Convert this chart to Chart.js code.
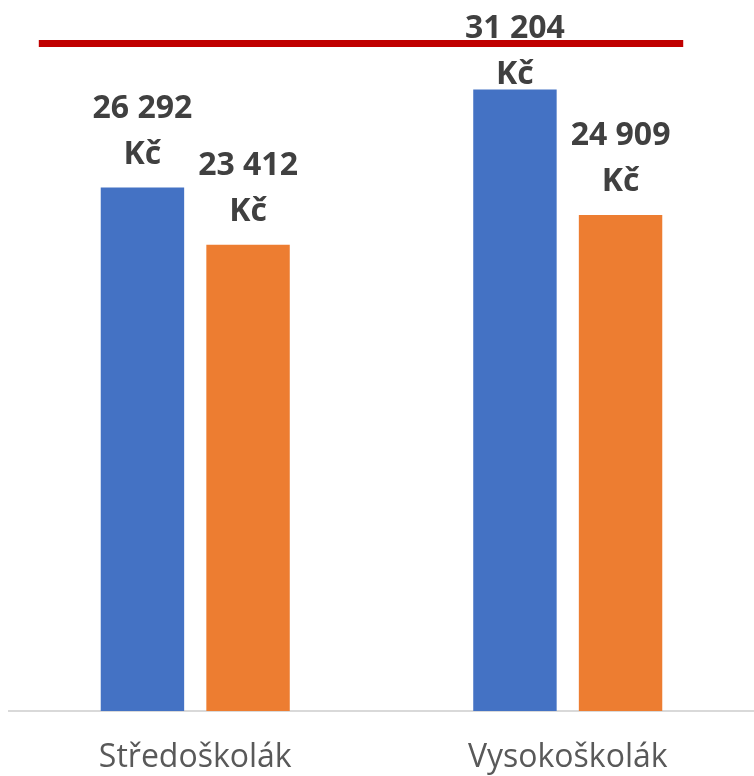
<!DOCTYPE html>
<html>
<head>
<meta charset="utf-8">
<script src="https://cdn.jsdelivr.net/npm/chart.js@4"></script>
<style>
  html, body { margin: 0; padding: 0; background: #fff; }
  #wrap { width: 754px; height: 776px; }
</style>
</head>
<body>
<div id="wrap"><canvas id="wageChart"></canvas></div>
<script>
// Chart data
const categories = ['Středoškolák', 'Vysokoškolák'];
const seriesBlue = [26292, 31204];
const seriesOrange = [23412, 24909];
// red reference line: value and its span in category units
const refValue = 33520;
const refSpan = [-0.42, 1.31];

// Red horizontal reference line, placed through the chart's scales
const refLine = {
    id: 'refLine',
    afterDatasetsDraw(chart) {
        const { ctx, scales } = chart;
        const y = scales.y.getPixelForValue(refValue);
        const x0 = scales.x.getPixelForValue(refSpan[0]);
        const x1 = scales.x.getPixelForValue(refSpan[1]);
        ctx.save();
        ctx.strokeStyle = '#C00000';
        ctx.lineWidth = 7;
        ctx.beginPath();
        ctx.moveTo(x0, y);
        ctx.lineTo(x1, y);
        ctx.stroke();
        ctx.restore();
    }
};

// Draws "26 292" / "Kč" above each bar
const valueLabels = {
    id: 'valueLabels',
    afterDatasetsDraw(chart) {
        const ctx = chart.ctx;
        ctx.save();
        ctx.font = 'bold 32px "Open Sans"';
        ctx.fillStyle = '#404040';
        ctx.textAlign = 'center';
        ctx.textBaseline = 'middle';
        chart.data.datasets.forEach((ds, i) => {
            chart.getDatasetMeta(i).data.forEach((bar, j) => {
                const text = String(ds.data[j]).replace(/\B(?=(\d{3})+(?!\d))/g, ' ');
                let numY = bar.y - 79;
                numY = Math.max(numY, chart.chartArea.top + 15); // keep inside chart
                ctx.fillText(text, bar.x, numY);
                ctx.fillText('Kč', bar.x, numY + 46);
            });
        });
        ctx.restore();
    }
};

const ctx = document.getElementById('wageChart').getContext('2d');
new Chart(ctx, {
    type: 'bar',
    data: {
        labels: categories,
        datasets: [
            {
                label: 'Řada 1',
                data: seriesBlue,
                backgroundColor: '#4472C4',
            },
            {
                label: 'Řada 2',
                data: seriesOrange,
                backgroundColor: '#ED7D31',
            },
        ],
    },
    options: {
        responsive: true,
        maintainAspectRatio: false,
        animation: false,
        categoryPercentage: 0.567,
        barPercentage: 0.79,
        layout: { padding: { left: 9, right: 0, top: 14, bottom: 0 } },
        plugins: {
            legend: { display: false },
            tooltip: { enabled: false },
        },
        scales: {
            x: {
                grid: { display: false, drawTicks: true, tickLength: 29 },
                border: { color: '#D9D9D9', width: 2 },
                ticks: {
                    color: '#595959',
                    font: { family: '"Open Sans"', size: 32, lineHeight: 1 },
                    padding: 2,
                },
            },
            y: {
                display: false,
                min: 0,
                max: 35000,
            },
        },
    },
    plugins: [refLine, valueLabels],
});
</script>
</body>
</html>
